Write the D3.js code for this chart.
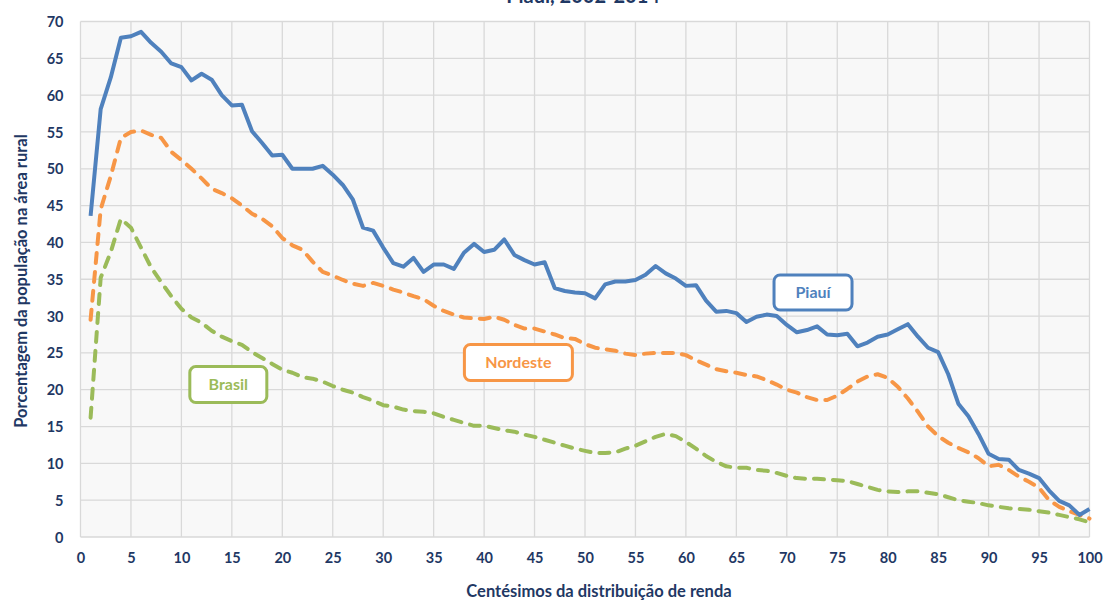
<!DOCTYPE html>
<html>
<head>
<meta charset="utf-8">
<script src="https://cdn.jsdelivr.net/npm/d3@7"></script>
<style>
  html, body { margin: 0; padding: 0; background: #ffffff; }
  svg { display: block; }
  text { font-family: Lato, "Open Sans", sans-serif; }
</style>
</head>
<body>
<svg id="chart" width="1105" height="601"></svg>
<script>
// Centésimos da distribuição de renda (1..100)
const percentis = d3.range(1, 101);

// Porcentagem da população na área rural, por centésimo
const piaui = [
  43.6, 58.1, 62.4, 67.8, 68.0, 68.6, 67.1, 65.9, 64.3, 63.8,
  62.0, 62.9, 62.1, 60.0, 58.6, 58.7, 55.1, 53.5, 51.8, 51.9,
  50.0, 50.0, 50.0, 50.4, 49.2, 47.8, 45.8, 42.0, 41.6, 39.3,
  37.2, 36.7, 37.9, 36.0, 37.0, 37.0, 36.4, 38.6, 39.8, 38.7,
  39.0, 40.4, 38.3, 37.6, 37.0, 37.3, 33.8, 33.4, 33.2, 33.1,
  32.4, 34.3, 34.7, 34.7, 34.9, 35.6, 36.8, 35.8, 35.1, 34.1,
  34.2, 32.1, 30.6, 30.7, 30.4, 29.2, 29.9, 30.2, 30.0, 28.8,
  27.8, 28.1, 28.6, 27.5, 27.4, 27.6, 25.9, 26.4, 27.2, 27.5,
  28.2, 28.9, 27.2, 25.7, 25.1, 22.1, 18.1, 16.4, 14.0, 11.3,
  10.6, 10.5, 9.1, 8.6, 8.0, 6.3, 4.9, 4.3, 3.0, 3.8
];

const nordeste = [
  29.5, 44.5, 49.0, 54.2, 55.0, 55.2, 54.6, 54.2, 52.3, 51.2,
  50.0, 48.7, 47.3, 46.7, 46.0, 45.0, 43.9, 43.2, 42.2, 40.6,
  39.6, 39.0, 37.4, 36.0, 35.5, 34.9, 34.4, 34.1, 34.5, 34.1,
  33.6, 33.2, 32.7, 32.3, 31.4, 30.7, 30.2, 29.8, 29.7, 29.6,
  29.9, 29.5, 28.8, 28.3, 28.3, 27.9, 27.5, 27.0, 26.9, 26.2,
  25.7, 25.5, 25.3, 24.9, 24.7, 24.9, 25.0, 25.0, 25.0, 24.7,
  24.0, 23.4, 22.8, 22.5, 22.3, 22.0, 21.8, 21.3, 20.7, 20.0,
  19.6, 19.0, 18.6, 18.6, 19.2, 20.1, 21.1, 21.8, 22.1, 21.6,
  20.4, 18.8, 17.0, 15.0, 13.7, 12.8, 12.1, 11.5, 10.7, 9.6,
  9.8, 9.1, 8.2, 7.5, 6.7, 5.0, 4.1, 3.5, 3.0, 2.5
];

const brasil = [
  16.2, 35.2, 38.7, 43.2, 42.0, 39.3, 36.6, 34.6, 32.7, 31.0,
  29.8, 29.1, 28.0, 27.2, 26.6, 26.1, 25.1, 24.3, 23.5, 22.7,
  22.3, 21.7, 21.5, 21.1, 20.5, 20.0, 19.6, 19.0, 18.5, 17.9,
  17.7, 17.3, 17.1, 17.0, 16.8, 16.3, 15.9, 15.5, 15.1, 15.1,
  14.8, 14.5, 14.3, 13.9, 13.6, 13.2, 12.8, 12.4, 12.0, 11.7,
  11.4, 11.4, 11.5, 12.0, 12.4, 13.0, 13.6, 14.0, 13.7, 12.9,
  12.0, 11.0, 10.2, 9.6, 9.4, 9.4, 9.1, 9.0, 8.7, 8.3,
  8.0, 7.9, 7.9, 7.8, 7.7, 7.6, 7.2, 6.8, 6.4, 6.2,
  6.1, 6.2, 6.2, 6.0, 5.8, 5.4, 5.0, 4.8, 4.6, 4.3,
  4.1, 3.9, 3.8, 3.7, 3.5, 3.3, 3.0, 2.7, 2.4, 2.0
];

const seriesNames = ["Piauí", "Nordeste", "Brasil"];
const xTicks = d3.range(0, 101, 5);
const yTicks = d3.range(0, 71, 5);

const titleText = "Piauí, 2002-2014";
const xTitle = "Centésimos da distribuição de renda";
const yTitle = "Porcentagem da população na área rural";

// ---- layout and styles ----
const W = 1105, H = 601;
const plot = { left: 80.5, right: 1089.5, top: 21.5, bottom: 537 };
const navy = "#1f3864";
const styles = {
  "Piauí":    { color: "#4f81bd", dash: null },
  "Nordeste": { color: "#f79646", dash: "10,9" },
  "Brasil":   { color: "#9bbb59", dash: "10,9" }
};
// label boxes, in data coordinates (centre) with pixel size
const boxes = [
  { name: "Piauí",    cx: 72.6, cy: 33.2, w: 78, h: 35 },
  { name: "Nordeste", cx: 43.4, cy: 23.7, w: 108, h: 36 },
  { name: "Brasil",   cx: 14.65, cy: 20.7, w: 77, h: 36 }
];

const svg = d3.select("#chart");

const x = d3.scaleLinear().domain([0, 100]).range([plot.left, plot.right]);
const y = d3.scaleLinear().domain([0, 70]).range([plot.bottom, plot.top]);

// plot background
svg.append("rect")
  .attr("x", plot.left).attr("y", plot.top)
  .attr("width", plot.right - plot.left)
  .attr("height", plot.bottom - plot.top)
  .attr("fill", "#f8f8f8");

// grid
const grid = svg.append("g").attr("stroke", "#d9d9d9").attr("stroke-width", 1.3);
grid.selectAll("line.v").data(xTicks).join("line")
  .attr("x1", d => x(d)).attr("x2", d => x(d))
  .attr("y1", plot.top).attr("y2", plot.bottom);
grid.selectAll("line.h").data(yTicks).join("line")
  .attr("x1", plot.left).attr("x2", plot.right)
  .attr("y1", d => y(d)).attr("y2", d => y(d));

// axes (labels only, grid draws the lines)
const xAxis = svg.append("g")
  .attr("transform", `translate(0,${plot.bottom})`)
  .call(d3.axisBottom(x).tickValues(xTicks).tickSize(0).tickPadding(16));
const yAxis = svg.append("g")
  .attr("transform", `translate(${plot.left},0)`)
  .call(d3.axisLeft(y).tickValues(yTicks).tickSize(0).tickPadding(17));
[xAxis, yAxis].forEach(g => {
  g.select(".domain").remove();
  g.selectAll("text")
    .attr("fill", navy)
    .style("font-family", "Lato, sans-serif")
    .style("font-size", "14.5px")
    .style("font-weight", "bold");
});
yAxis.selectAll("text").attr("dy", "0.35em");

// lines
const line = d3.line()
  .x((d, i) => x(percentis[i]))
  .y(d => y(d));

const seriesData = { "Piauí": piaui, "Nordeste": nordeste, "Brasil": brasil };
["Brasil", "Nordeste", "Piauí"].forEach(name => {
  const s = styles[name];
  svg.append("path")
    .datum(seriesData[name])
    .attr("d", line)
    .attr("fill", "none")
    .attr("stroke", s.color)
    .attr("stroke-width", 4)
    .attr("stroke-linejoin", "round")
    .attr("stroke-linecap", s.dash ? "round" : "butt")
    .attr("stroke-dasharray", s.dash);
});

// series label boxes
boxes.forEach(b => {
  const cx = x(b.cx), cy = y(b.cy);
  const col = styles[b.name].color;
  svg.append("rect")
    .attr("x", cx - b.w / 2).attr("y", cy - b.h / 2)
    .attr("width", b.w).attr("height", b.h)
    .attr("rx", 6).attr("ry", 6)
    .attr("fill", "#ffffff")
    .attr("stroke", col)
    .attr("stroke-width", 3);
  svg.append("text")
    .attr("x", cx).attr("y", cy)
    .attr("dy", "0.36em")
    .attr("text-anchor", "middle")
    .attr("fill", col)
    .style("font-size", "16px")
    .style("font-weight", "bold")
    .text(b.name);
});

// title (its upper part runs above the top edge)
svg.append("text")
  .attr("x", 583).attr("y", 3)
  .attr("text-anchor", "middle")
  .attr("fill", navy)
  .style("font-size", "20px")
  .style("font-weight", "bold")
  .text(titleText);

// axis titles
svg.append("text")
  .attr("x", 599).attr("y", 596.5)
  .attr("text-anchor", "middle")
  .attr("fill", navy)
  .style("font-size", "16.5px")
  .style("font-weight", "bold")
  .text(xTitle);

svg.append("text")
  .attr("transform", `translate(27,281) rotate(-90)`)
  .attr("text-anchor", "middle")
  .attr("fill", navy)
  .style("font-size", "16.5px")
  .style("font-weight", "bold")
  .text(yTitle);
</script>
</body>
</html>
